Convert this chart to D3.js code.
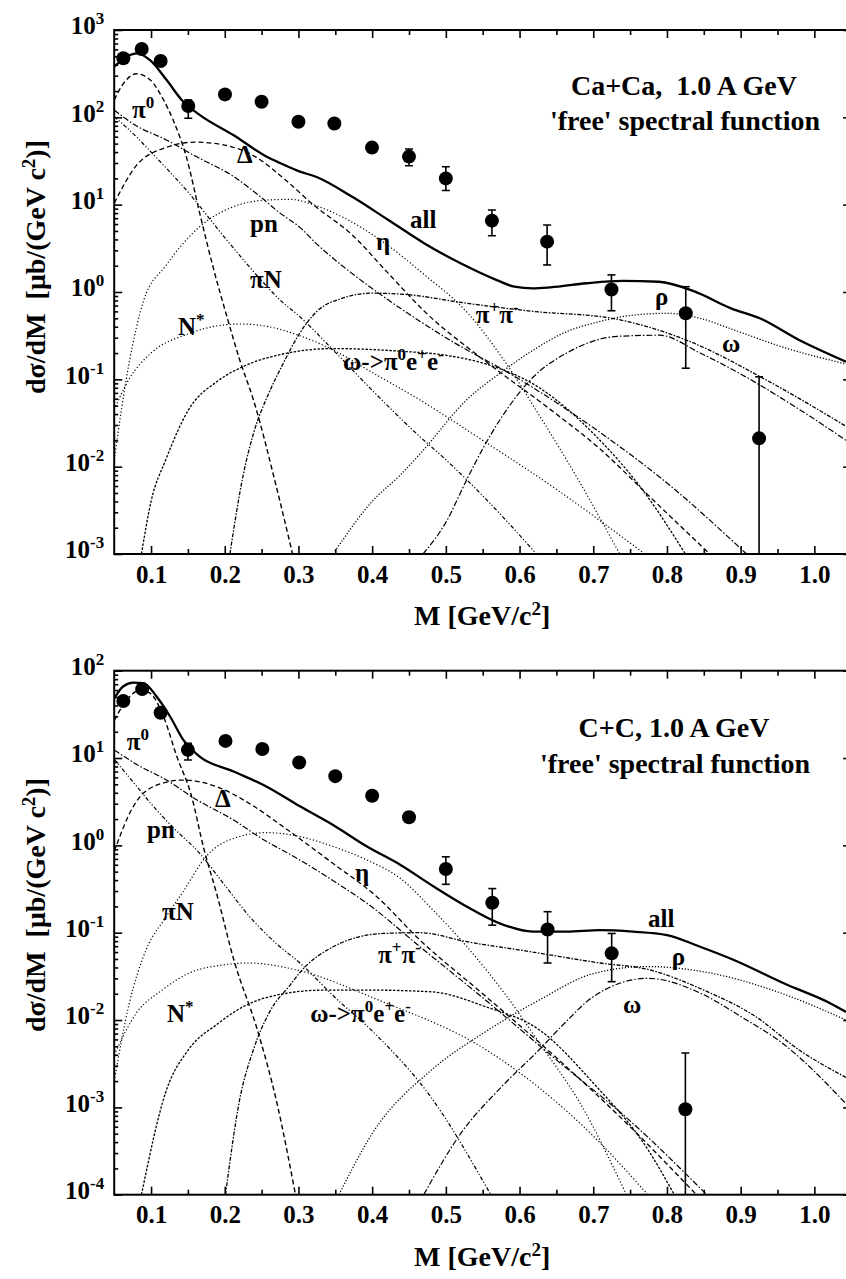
<!DOCTYPE html>
<html>
<head>
<meta charset="utf-8">
<script src="https://cdn.jsdelivr.net/npm/d3@7"></script>
<style>
  body { margin: 0; background: #fff; }
  svg text { font-family: "Liberation Serif", "Times New Roman", serif; font-weight: bold; fill: #000; }
</style>
</head>
<body>
<script>
// ---- Ca+Ca panel: model curves as [M, dsigma/dM] pairs ----
const caAll = [[0.05, 380], [0.0714, 518], [0.0805, 541], [0.0986, 453], [0.1212, 267], [0.1416, 158], [0.1664, 106], [0.2116, 62.8], [0.2569, 35.4], [0.275, 30], [0.3021, 23.9], [0.3238, 20.9], [0.373, 12.3], [0.422, 6.67], [0.471, 3.6], [0.52, 2.13], [0.569, 1.37], [0.593, 1.15], [0.618, 1.1], [0.642, 1.13], [0.691, 1.26], [0.74, 1.34], [0.789, 1.31], [0.838, 1.01], [0.887, 0.65], [0.926, 0.5], [0.98, 0.28], [1.043, 0.159]]
const caPi0 = [[0.05, 158], [0.065, 260], [0.08, 315], [0.099, 267], [0.117, 158], [0.13, 93], [0.148, 35], [0.166, 8], [0.184, 1.95], [0.203, 0.52], [0.22, 0.17], [0.239, 0.058], [0.27, 0.0059], [0.292, 0.001]]
const caDelta = [[0.05, 10.4], [0.08, 28], [0.12, 45], [0.16, 52], [0.2, 48], [0.24, 36], [0.28, 20], [0.32, 10], [0.373, 4.5], [0.42, 1.7], [0.471, 0.6], [0.55, 0.17], [0.642, 0.045], [0.709, 0.016], [0.777, 0.0045], [0.858, 0.001]]
const caPn = [[0.05, 121], [0.08, 80], [0.121, 55], [0.16, 36], [0.212, 21], [0.25, 12], [0.275, 8], [0.302, 5.5], [0.324, 3.6], [0.37, 1.7], [0.422, 0.81], [0.5, 0.3], [0.6, 0.1], [0.7, 0.028], [0.8, 0.0065], [0.908, 0.001]]
const caPiN = [[0.05, 102], [0.08, 60], [0.1, 40], [0.15, 14], [0.2, 4.2], [0.25, 1.35], [0.275, 0.81], [0.302, 0.52], [0.347, 0.217], [0.4, 0.075], [0.46, 0.024], [0.5, 0.012], [0.555, 0.0042], [0.623, 0.001]]
const caEta = [[0.05, 0.012], [0.07, 0.15], [0.09, 0.8], [0.12, 2], [0.166, 5.6], [0.212, 9.5], [0.257, 11.3], [0.29, 11.5], [0.32, 10], [0.36, 7.2], [0.412, 3.9], [0.47, 1.6], [0.53, 0.57], [0.58, 0.16], [0.63, 0.035], [0.68, 0.007], [0.736, 0.001]]
const caNstar = [[0.05, 0.045], [0.07, 0.1], [0.1, 0.2], [0.15, 0.33], [0.19, 0.41], [0.221, 0.43], [0.26, 0.4], [0.3, 0.32], [0.347, 0.217], [0.4, 0.12], [0.465, 0.058], [0.55, 0.02], [0.65, 0.0055], [0.77, 0.001]]
const caOmegaDalitz = [[0.087, 0.001], [0.1, 0.004], [0.12, 0.012], [0.151, 0.045], [0.19, 0.095], [0.225, 0.14], [0.279, 0.195], [0.347, 0.225], [0.438, 0.21], [0.497, 0.19], [0.554, 0.15], [0.627, 0.08], [0.7, 0.024], [0.77, 0.005], [0.825, 0.001]]
const caPiPi = [[0.207, 0.001], [0.225, 0.008], [0.239, 0.024], [0.26, 0.07], [0.279, 0.15], [0.3, 0.32], [0.325, 0.6], [0.36, 0.85], [0.4, 0.97], [0.45, 0.93], [0.52, 0.76], [0.618, 0.6], [0.725, 0.5], [0.827, 0.28], [0.935, 0.098], [1.043, 0.029]]
const caRho = [[0.347, 0.001], [0.4, 0.004], [0.438, 0.008], [0.465, 0.014], [0.528, 0.058], [0.575, 0.12], [0.619, 0.217], [0.66, 0.34], [0.709, 0.46], [0.76, 0.55], [0.8, 0.57], [0.845, 0.5], [0.89, 0.37], [0.96, 0.23], [1.043, 0.15]]
const caOmega = [[0.469, 0.001], [0.5, 0.0023], [0.528, 0.007], [0.55, 0.016], [0.574, 0.035], [0.619, 0.107], [0.664, 0.2], [0.732, 0.31], [0.79, 0.32], [0.845, 0.2], [0.89, 0.128], [0.98, 0.045], [1.043, 0.02]]

// ---- Ca+Ca panel: measured points ----
const caPtM = [0.0624, 0.0873, 0.113, 0.1505, 0.2003, 0.25, 0.3, 0.3487, 0.3998, 0.45, 0.5, 0.5625, 0.6374, 0.7247, 0.8255, 0.925]
const caPtV = [474, 606, 442, 135, 183, 151, 89, 85, 45, 35.5, 20, 6.56, 3.77, 1.07, 0.57, 0.0211]
const caErrLo = [474, 606, 442, 97.6, 183, 151, 89, 85, 45, 27.9, 14.5, 4.4, 2.04, 0.61, 0.134, 0.0003]
const caErrHi = [474, 606, 442, 158, 183, 151, 89, 85, 45, 43.4, 27.2, 8.7, 5.85, 1.57, 1.15, 0.107]

// ---- C+C panel: model curves ----
const ccAll = [[0.05, 48], [0.062, 66], [0.076, 73], [0.0895, 72], [0.108, 50], [0.126, 29.7], [0.144, 16], [0.166, 10.4], [0.212, 7], [0.257, 4.7], [0.302, 2.8], [0.347, 1.71], [0.393, 0.97], [0.438, 0.6], [0.483, 0.34], [0.528, 0.2], [0.573, 0.128], [0.618, 0.103], [0.664, 0.103], [0.709, 0.107], [0.754, 0.103], [0.8, 0.094], [0.845, 0.069], [0.89, 0.049], [0.96, 0.026], [1.022, 0.0155], [1.043, 0.0124]]
const ccPi0 = [[0.05, 27], [0.062, 40], [0.085, 60], [0.099, 55], [0.117, 29.7], [0.135, 10.4], [0.154, 3.9], [0.172, 0.89], [0.189, 0.28], [0.212, 0.05], [0.246, 0.0069], [0.27, 0.0012], [0.296, 0.0001]]
const ccDelta = [[0.05, 0.85], [0.076, 2.8], [0.103, 4.7], [0.144, 5.6], [0.189, 4.7], [0.234, 3], [0.279, 1.64], [0.347, 0.62], [0.406, 0.26], [0.465, 0.082], [0.55, 0.02], [0.65, 0.0037], [0.75, 0.0006], [0.84, 0.0001]]
const ccPn = [[0.05, 12.4], [0.08, 8.5], [0.121, 5.6], [0.16, 3.4], [0.212, 1.95], [0.25, 1.2], [0.302, 0.68], [0.35, 0.38], [0.393, 0.217], [0.465, 0.069], [0.55, 0.018], [0.65, 0.0035], [0.75, 0.0007], [0.854, 0.0001]]
const ccPiN = [[0.05, 9.7], [0.08, 4.8], [0.1, 3], [0.13, 1.6], [0.166, 0.81], [0.2, 0.35], [0.234, 0.152], [0.27, 0.075], [0.302, 0.045], [0.35, 0.018], [0.4, 0.0075], [0.48, 0.0013], [0.561, 0.0001]]
const ccEta = [[0.05, 0.002], [0.07, 0.015], [0.093, 0.063], [0.12, 0.15], [0.144, 0.3], [0.175, 0.75], [0.212, 1.2], [0.257, 1.4], [0.302, 1.26], [0.347, 0.97], [0.393, 0.68], [0.438, 0.42], [0.483, 0.18], [0.528, 0.07], [0.58, 0.02], [0.63, 0.005], [0.68, 0.0012], [0.745, 0.0001]]
const ccNstar = [[0.05, 0.004], [0.08, 0.012], [0.115, 0.022], [0.15, 0.034], [0.2, 0.043], [0.232, 0.045], [0.3, 0.037], [0.408, 0.017], [0.554, 0.0046], [0.7, 0.00047], [0.774, 0.0001]]
const ccOmegaDalitz = [[0.087, 0.0001], [0.12, 0.0015], [0.151, 0.0046], [0.19, 0.009], [0.225, 0.0142], [0.28, 0.02], [0.334, 0.022], [0.4, 0.022], [0.481, 0.021], [0.554, 0.0142], [0.627, 0.0077], [0.7, 0.0019], [0.774, 0.00033], [0.81, 0.0001]]
const ccPiPi = [[0.201, 0.0001], [0.22, 0.0012], [0.239, 0.0046], [0.26, 0.012], [0.29, 0.026], [0.302, 0.035], [0.347, 0.069], [0.415, 0.098], [0.465, 0.1], [0.528, 0.079], [0.618, 0.06], [0.709, 0.045], [0.774, 0.038], [0.85, 0.022], [0.92, 0.011], [0.98, 0.0045], [1.043, 0.0022]]
const ccRho = [[0.355, 0.0001], [0.4, 0.0005], [0.481, 0.0027], [0.55, 0.007], [0.627, 0.017], [0.7, 0.034], [0.774, 0.041], [0.847, 0.036], [0.957, 0.02], [1.043, 0.01]]
const ccOmega = [[0.47, 0.0001], [0.52, 0.0005], [0.575, 0.0017], [0.627, 0.0046], [0.66, 0.009], [0.7, 0.0185], [0.774, 0.03], [0.847, 0.02], [0.9, 0.011], [0.957, 0.0054], [1.043, 0.0011]]

// ---- C+C panel: measured points ----
const ccPtM = [0.0624, 0.088, 0.113, 0.15, 0.201, 0.251, 0.301, 0.35, 0.4, 0.45, 0.5, 0.563, 0.638, 0.725, 0.825]
const ccPtV = [45, 61.6, 33, 12.4, 15.7, 12.7, 8.9, 6.2, 3.7, 2.1, 0.536, 0.22, 0.109, 0.058, 0.00095]
const ccErrLo = [45, 61.6, 33, 9.5, 15.7, 12.7, 8.9, 6.2, 3.3, 1.85, 0.358, 0.122, 0.045, 0.0275, 0.00005]
const ccErrHi = [45, 61.6, 33, 14.7, 15.7, 12.7, 8.9, 6.2, 4.2, 2.4, 0.74, 0.32, 0.174, 0.098, 0.0042]

// ---- labels on the curves (text, M, value at text baseline start) ----
const caLabelText = ["π^0", "Δ", "pn", "πN", "N^*", "ω->π^0e^+e^-", "all", "η", "π^+π^-", "ρ", "ω"]
const caLabelM = [0.0743, 0.2166, 0.2343, 0.2343, 0.1366, 0.3605, 0.4514, 0.4053, 0.5407, 0.7838, 0.8747]
const caLabelV = [98, 30, 4.86, 1.11, 0.32, 0.128, 5.4, 3.03, 0.44, 0.71, 0.206]
const ccLabelText = ["π^0", "Δ", "pn", "πN", "η", "N^*", "ω->π^0e^+e^-", "ω", "ρ", "all", "π^+π^-"]
const ccLabelM = [0.067, 0.1868, 0.0945, 0.1149, 0.3767, 0.1216, 0.316, 0.7404, 0.8065, 0.7743, 0.408]
const ccLabelV = [12.4, 2.75, 1.21, 0.14, 0.39, 0.0095, 0.0095, 0.012, 0.0427, 0.116, 0.045]

// ---- axis ticks ----
const xMajor = [0.1, 0.2, 0.3, 0.4, 0.5, 0.6, 0.7, 0.8, 0.9, 1.0]
const xMinor = [0.15, 0.25, 0.35, 0.45, 0.55, 0.65, 0.75, 0.85, 0.95, 1.05]

// Line style of each component (not data).
const curveStyle = {
  all: {w: 2.3, dash: null},
  pi0: {w: 1.4, dash: "5,3"},
  delta: {w: 1.3, dash: "5,3"},
  pn: {w: 1.2, dash: "6,2,1.5,2"},
  piN: {w: 1.2, dash: "4,2,1.2,2,1.2,2"},
  eta: {w: 1.2, dash: "1.2,2.2"},
  nstar: {w: 1.2, dash: "1.2,2.2"},
  omegaDalitz: {w: 1.3, dash: "2.5,1.5"},
  pipi: {w: 1.3, dash: "4,1.5,1.5,1.5"},
  rho: {w: 1.3, dash: "1.2,1.8"},
  omega: {w: 1.2, dash: "6,2,1.5,2"}
}

const width = 846
const height = 1279
const xLeft = 114.2
const xRight = 851.2

const panels = [
  {
    id: "ca", top: 30, bottom: 554, yDomain: [1e-3, 1e3],
    curves: {pi0: caPi0, delta: caDelta, pn: caPn, piN: caPiN, eta: caEta, nstar: caNstar, omegaDalitz: caOmegaDalitz, pipi: caPiPi, rho: caRho, omega: caOmega, all: caAll},
    ptM: caPtM, ptV: caPtV, errLo: caErrLo, errHi: caErrHi,
    labelText: caLabelText, labelM: caLabelM, labelV: caLabelV,
    title: [["Ca+Ca,  1.0 A GeV", 0.823, 180], ["'free' spectral function", 0.8245, 71.6]],
    yTitleAt: 267
  },
  {
    id: "cc", top: 670.7, bottom: 1194.7, yDomain: [1e-4, 1e2],
    curves: {pi0: ccPi0, delta: ccDelta, pn: ccPn, piN: ccPiN, eta: ccEta, nstar: ccNstar, omegaDalitz: ccOmegaDalitz, pipi: ccPiPi, rho: ccRho, omega: ccOmega, all: ccAll},
    ptM: ccPtM, ptV: ccPtV, errLo: ccErrLo, errHi: ccErrHi,
    labelText: ccLabelText, labelM: ccLabelM, labelV: ccLabelV,
    title: [["C+C, 1.0 A GeV", 0.8096, 17.4], ["'free' spectral function", 0.811, 6.67]],
    yTitleAt: 905
  }
]

const svg = d3.select("body").append("svg")
  .attr("width", width)
  .attr("height", height)

/**
 * Writes a string with ^x superscripts as tspans into a text selection.
 * @param textSel
 * @param str
 * @param supSize
 */
const _writeSup = (textSel, str, supSize) => {
  const parts = str.split(/(\^.)/).filter(s => s.length)
  let raised = false
  parts.forEach(p => {
    if (p[0] === "^") {
      textSel.append("tspan").attr("font-size", supSize).attr("dy", raised ? 0 : -10).text(p[1])
      raised = true
    } else {
      textSel.append("tspan").attr("dy", raised ? 10 : 0).text(p)
      raised = false
    }
  })
}

/**
 * Draws one panel: frame, ticks, curves, points and labels.
 * @param p
 */
const _drawPanel = (p) => {
  const x = d3.scaleLinear().domain([0.05, 1.05]).range([xLeft, xRight])
  const y = d3.scaleLog().domain(p.yDomain).range([p.bottom, p.top])
  const g = svg.append("g")

  g.append("clipPath").attr("id", "clip-" + p.id)
    .append("rect")
    .attr("x", xLeft).attr("y", p.top)
    .attr("width", xRight - xLeft).attr("height", p.bottom - p.top)

  // Decades and minor log ticks.
  const lo = Math.round(Math.log10(p.yDomain[0]))
  const hi = Math.round(Math.log10(p.yDomain[1]))
  const yMajor = d3.range(lo, hi + 1).map(k => Math.pow(10, k))
  const yMinor = []
  for (let k = lo; k < hi; k++) {
    for (let m = 2; m <= 9; m++) yMinor.push(m * Math.pow(10, k))
  }

  const styleTicks = sel => {
    sel.select(".domain").remove()
    sel.attr("font-size", 25).attr("font-family", null)
    sel.selectAll(".tick line").attr("stroke", "#000").attr("stroke-width", 1.6)
  }

  // x axes (bottom labelled, top mirrored)
  g.append("g").attr("transform", "translate(0," + p.bottom + ")")
    .call(d3.axisBottom(x).tickValues(xMajor).tickSize(-8).tickPadding(11).tickFormat(d3.format(".1f")))
    .call(styleTicks)
  g.append("g").attr("transform", "translate(0," + p.bottom + ")")
    .call(d3.axisBottom(x).tickValues(xMinor).tickSize(-5).tickFormat(""))
    .call(styleTicks)
  g.append("g").attr("transform", "translate(0," + p.top + ")")
    .call(d3.axisTop(x).tickValues(xMajor).tickSize(-8).tickFormat(""))
    .call(styleTicks)
  g.append("g").attr("transform", "translate(0," + p.top + ")")
    .call(d3.axisTop(x).tickValues(xMinor).tickSize(-5).tickFormat(""))
    .call(styleTicks)

  // y axes (left labelled, right mirrored)
  const leftAxis = g.append("g").attr("transform", "translate(" + xLeft + ",0)")
    .call(d3.axisLeft(y).tickValues(yMajor).tickSize(-8).tickPadding(10).tickFormat(""))
    .call(styleTicks)
  leftAxis.selectAll(".tick text").each(function (d) {
    const t = d3.select(this).attr("dy", "0.15em")
    t.append("tspan").text("10")
    t.append("tspan").attr("dy", -10).attr("font-size", 17).text(Math.round(Math.log10(d)))
  })
  g.append("g").attr("transform", "translate(" + xLeft + ",0)")
    .call(d3.axisLeft(y).tickValues(yMinor).tickSize(-4).tickFormat(""))
    .call(styleTicks)
  g.append("g").attr("transform", "translate(" + xRight + ",0)")
    .call(d3.axisRight(y).tickValues(yMajor).tickSize(-8).tickFormat(""))
    .call(styleTicks)
  g.append("g").attr("transform", "translate(" + xRight + ",0)")
    .call(d3.axisRight(y).tickValues(yMinor).tickSize(-4).tickFormat(""))
    .call(styleTicks)

  // frame
  g.append("rect")
    .attr("x", xLeft).attr("y", p.top)
    .attr("width", xRight - xLeft).attr("height", p.bottom - p.top)
    .attr("fill", "none").attr("stroke", "#000").attr("stroke-width", 2)

  // curves
  const line = d3.line()
    .x(d => x(d[0]))
    .y(d => y(d[1]))
    .curve(d3.curveMonotoneX)
  const curves = g.append("g").attr("clip-path", "url(#clip-" + p.id + ")")
  Object.keys(p.curves).forEach(key => {
    const st = curveStyle[key]
    curves.append("path")
      .datum(p.curves[key])
      .attr("d", line)
      .attr("fill", "none")
      .attr("stroke", "#000")
      .attr("stroke-width", st.w)
      .attr("stroke-dasharray", st.dash)
  })

  // error bars and points
  const pts = g.append("g").attr("clip-path", "url(#clip-" + p.id + ")")
  p.ptM.forEach((m, i) => {
    if (p.errHi[i] === p.errLo[i]) return
    const cx = x(m)
    pts.append("line")
      .attr("x1", cx).attr("x2", cx)
      .attr("y1", y(p.errLo[i])).attr("y2", y(p.errHi[i]))
      .attr("stroke", "#000").attr("stroke-width", 1.6)
    ;[p.errLo[i], p.errHi[i]].forEach(v => {
      pts.append("line")
        .attr("x1", cx - 4).attr("x2", cx + 4)
        .attr("y1", y(v)).attr("y2", y(v))
        .attr("stroke", "#000").attr("stroke-width", 1.6)
    })
  })
  pts.selectAll("circle")
    .data(p.ptM)
    .join("circle")
    .attr("cx", d => x(d))
    .attr("cy", (d, i) => y(p.ptV[i]))
    .attr("r", 7)
    .attr("fill", "#000")

  // curve labels
  p.labelText.forEach((s, i) => {
    const t = g.append("text")
      .attr("x", x(p.labelM[i]))
      .attr("y", y(p.labelV[i]))
      .attr("font-size", 25)
    _writeSup(t, s, 17)
  })

  // reaction title
  p.title.forEach(tt => {
    g.append("text")
      .attr("x", x(tt[1]))
      .attr("y", y(tt[2]))
      .attr("text-anchor", "middle")
      .attr("font-size", 28)
      .style("white-space", "pre")
      .text(tt[0])
  })

  // axis titles
  const xt = g.append("text")
    .attr("x", (xLeft + width) / 2 + 2)
    .attr("y", p.bottom + 71)
    .attr("text-anchor", "middle")
    .attr("font-size", 28)
  _writeSup(xt, "M [GeV/c^2]", 19)
  xt.append("tspan").attr("dy", 10).text("")

  const yt = g.append("text")
    .attr("transform", "translate(45," + p.yTitleAt + ") rotate(-90)")
    .attr("text-anchor", "middle")
    .attr("font-size", 28)
    .style("white-space", "pre")
  _writeSup(yt, "dσ/dM  [μb/(GeV c^2)]", 19)
}

panels.forEach(_drawPanel)
</script>
</body>
</html>
